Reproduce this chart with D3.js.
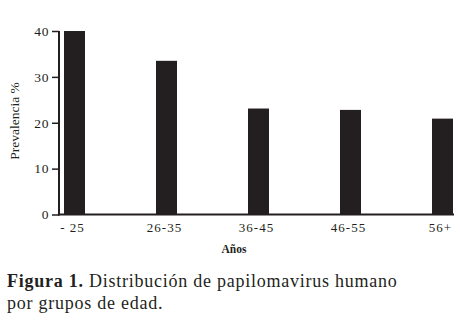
<!DOCTYPE html>
<html>
<head>
<meta charset="utf-8">
<script src="https://cdn.jsdelivr.net/npm/d3@7"></script>
<style>
  body { margin: 0; background: #fff; }
  text { font-family: "Liberation Serif", "DejaVu Serif", serif; fill: #231f20; }
</style>
</head>
<body>
<div id="chart"></div>
<script>
// datos
const grupos = ["- 25", "26-35", "36-45", "46-55", "56+"];
const prevalencia = [40, 33.5, 23.1, 22.8, 20.9];
const ticksY = [0, 10, 20, 30, 40];

const width = 467, height = 322;
const svg = d3.select("#chart").append("svg")
  .attr("width", width).attr("height", height);

const x = d3.scaleBand().domain(grupos).range([64, 453])
  .paddingInner(1 - 21 / 92).paddingOuter(0);
const y = d3.scaleLinear().domain([0, 40]).range([214.5, 31]);

// barras
svg.selectAll(".bar")
  .data(grupos.map((g, i) => ({ g, v: prevalencia[i] })))
  .join("rect")
  .attr("x", d => x(d.g))
  .attr("y", d => y(d.v))
  .attr("width", x.bandwidth())
  .attr("height", d => y(0) - y(d.v))
  .attr("fill", "#231f20");

// eje y
const axisY = svg.append("g").attr("transform", "translate(59,0)")
  .call(d3.axisLeft(y).tickValues(ticksY).tickSize(7).tickPadding(3));
axisY.select(".domain").attr("stroke", "#231f20").attr("stroke-width", 2)
  .attr("d", `M0,${y(40)}V${y(0) + 1}`);
axisY.selectAll(".tick line").attr("stroke", "#231f20").attr("stroke-width", 1.5);
axisY.selectAll(".tick text").style("font-size", "13.5px").attr("fill", "#231f20")
  .style("letter-spacing", "0.6px");

// eje x
svg.append("line")
  .attr("x1", 58).attr("x2", 454)
  .attr("y1", y(0)).attr("y2", y(0))
  .attr("stroke", "#231f20").attr("stroke-width", 2);

svg.selectAll(".xlab")
  .data(grupos)
  .join("text")
  .attr("x", d => x(d) + x.bandwidth() / 2 - 2)
  .attr("y", 232)
  .attr("text-anchor", "middle")
  .style("font-size", "13px")
  .style("letter-spacing", "1px")
  .text(d => d);

// títulos de ejes
svg.append("text")
  .attr("transform", "translate(19,121) rotate(-90)")
  .attr("text-anchor", "middle")
  .style("font-size", "13.5px")
  .text("Prevalencia %");

svg.append("text")
  .attr("x", 234).attr("y", 253)
  .attr("text-anchor", "middle")
  .style("font-size", "11.5px").style("font-weight", "bold")
  .text("Años");

// pie de figura
const cap = svg.append("text").attr("x", 7).attr("y", 287)
  .style("font-size", "18px").style("letter-spacing", "0.75px");
cap.append("tspan").style("font-weight", "bold").text("Figura 1.");
cap.append("tspan").text(" Distribución de papilomavirus humano");
svg.append("text").attr("x", 7).attr("y", 309)
  .style("font-size", "18px").style("letter-spacing", "0.75px")
  .text("por grupos de edad.");
</script>
</body>
</html>
